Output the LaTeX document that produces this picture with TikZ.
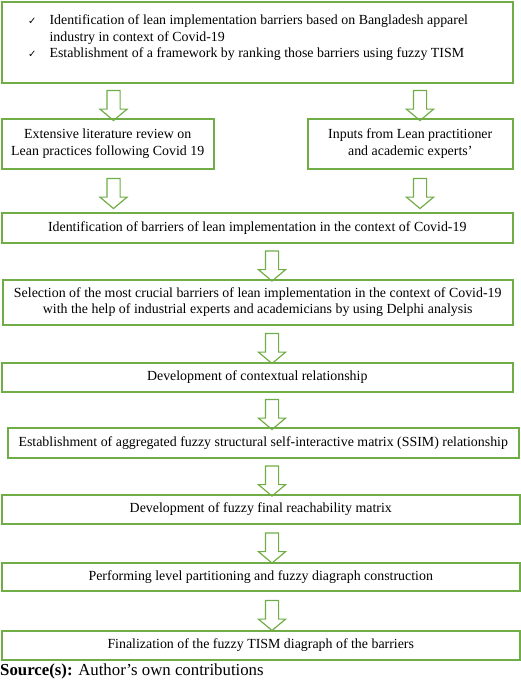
\documentclass[tikz,border=0pt]{standalone}
\usepackage{fontspec}
\setmainfont{Liberation Serif}
\newfontfamily\symfont{DejaVu Sans}
\usepackage{tikz}
\usetikzlibrary{calc}
\usetikzlibrary{shapes.arrows}
\usepackage{color}
\definecolor{leafgreen}{RGB}{112, 173, 71}

\tikzset{
    stepbox/.style={rectangle, draw=leafgreen, line width=1.5pt, anchor=north west, inner sep=0pt,
        align=center, font=\fontsize{13.9}{16.5}\selectfont},
    downarrow/.style={single arrow, draw=leafgreen, line width=1.2pt, rotate=-90, inner sep=0pt,
        text width=0pt, text height=12pt, text depth=0pt, minimum height=30pt,
        single arrow head extend=7pt, single arrow tip angle=100}
}

\begin{document}
\begin{tikzpicture}[x=1pt, y=-1pt]
    \useasboundingbox (0,0) rectangle (520,683);
    \coordinate (leftcol)  at (113.5,0);
    \coordinate (rightcol) at (420,0);
    \coordinate (midcol)   at (272,0);

    \node[stepbox, minimum width=511pt, minimum height=81pt] (aim)   at (  1,  1) {};
    \node[anchor=north west, inner sep=0pt, align=left, font=\fontsize{13.9}{16.5}\selectfont] (aimtext) at (28, 13)
        {\begin{tabular}{@{}l@{\hspace{13pt}}l@{}}
            {\symfont\fontsize{10}{10}\selectfont ✓} & Identification of lean implementation barriers based on Bangladesh apparel\\
                                    & industry in context of Covid-19\\
            {\symfont\fontsize{10}{10}\selectfont ✓} & Establishment of a framework by ranking those barriers using fuzzy TISM
         \end{tabular}};
    \node[stepbox, minimum width=212pt, minimum height=50pt] (lit)   at (  1,118)
        {Extensive literature review on\\Lean practices following Covid 19};
    \node[stepbox, minimum width=205pt, minimum height=50pt] (inp)   at (307,118)
        {Inputs from Lean practitioner\\and academic experts'};
    \node[stepbox, minimum width=511pt, minimum height=30pt] (ident) at (  1,212)
        {Identification of barriers of lean implementation in the context of Covid-19};
    \node[stepbox, minimum width=510pt, minimum height=45pt, font=\fontsize{13.9}{15.5}\selectfont] (sel) at (2,279)
        {Selection of the most crucial barriers of lean implementation in the context of Covid-19\\
         with the help of industrial experts and academicians by using Delphi analysis};
    \node[stepbox, minimum width=511pt, minimum height=29pt] (ctx)   at (  1,362)
        {Development of contextual relationship};
    \node[stepbox, minimum width=511pt, minimum height=30pt] (ssim)  at (  7,427)
        {Establishment of aggregated fuzzy structural self-interactive matrix (SSIM) relationship};
    \node[stepbox, minimum width=518pt, minimum height=29pt] (frm)   at (  1,494)
        {Development of fuzzy final reachability matrix};
    \node[stepbox, minimum width=518pt, minimum height=28pt] (lvl)   at (  1,562)
        {Performing level partitioning and fuzzy diagraph construction};
    \node[stepbox, minimum width=518pt, minimum height=29pt] (fin)   at (  1,630)
        {Finalization of the fuzzy TISM diagraph of the barriers};
    \node[anchor=west, inner sep=0pt, font=\fontsize{16.8}{18}\selectfont] (src) at (0,671)
        {\textbf{Source(s):} Author's own contributions};

    \node[downarrow] (aimlit)   at ($(leftcol  |- aim.south)!0.5!(leftcol  |- lit.north)   + (0,2)$) {};
    \node[downarrow] (aiminp)   at ($(rightcol |- aim.south)!0.5!(rightcol |- inp.north)   + (0,2)$) {};
    \node[downarrow] (litident) at ($(leftcol  |- lit.south)!0.5!(leftcol  |- ident.north)     $) {};
    \node[downarrow] (inpident) at ($(rightcol |- inp.south)!0.5!(rightcol |- ident.north)     $) {};
    \node[downarrow] (identsel) at ($(midcol   |- ident.south)!0.5!(midcol |- sel.north)   + (0,2)$) {};
    \node[downarrow] (selctx)   at ($(midcol   |- sel.south)!0.5!(midcol   |- ctx.north)   + (0,2)$) {};
    \node[downarrow] (ctxssim)  at ($(midcol   |- ctx.south)!0.5!(midcol   |- ssim.north)  + (0,2)$) {};
    \node[downarrow] (ssimfrm)  at ($(midcol   |- ssim.south)!0.5!(midcol  |- frm.north)   + (0,2)$) {};
    \node[downarrow] (frmlvl)   at ($(midcol   |- frm.south)!0.5!(midcol   |- lvl.north)   + (0,2)$) {};
    \node[downarrow] (lvlfin)   at ($(midcol   |- lvl.south)!0.5!(midcol   |- fin.north)   + (0,2)$) {};
\end{tikzpicture}
\end{document}
